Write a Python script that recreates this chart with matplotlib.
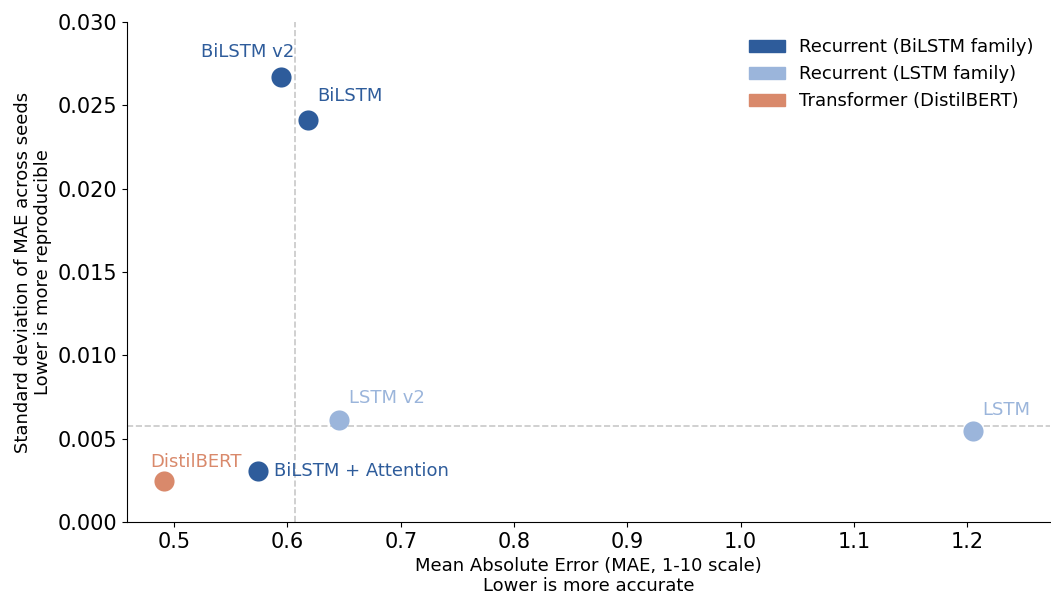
import numpy as np
import matplotlib
matplotlib.use("Agg")
from matplotlib import pyplot as plt
from matplotlib.patches import Patch

models = ["BiLSTM v2", "BiLSTM", "LSTM v2", "LSTM", "BiLSTM + Attention", "DistilBERT"]
families = ["bilstm", "bilstm", "lstm", "lstm", "bilstm", "transformer"]
mae = [0.5944, 0.6183, 0.6456, 1.2053, 0.5741, 0.4912]
mae_std = [0.0267, 0.0241, 0.00612, 0.00546, 0.00306, 0.00246]

colors = {"bilstm": "#2e5c9b", "lstm": "#9bb5db", "transformer": "#d9896b"}
legend_names = {"bilstm": "Recurrent (BiLSTM family)",
                "lstm": "Recurrent (LSTM family)",
                "transformer": "Transformer (DistilBERT)"}

# label offsets in pixels and alignment
label_pos = {
    "BiLSTM v2": ((13, 16), "right", "bottom"),
    "BiLSTM": ((9, 15), "left", "bottom"),
    "LSTM v2": ((10, 13), "left", "bottom"),
    "LSTM": ((9, 12), "left", "bottom"),
    "BiLSTM + Attention": ((16, 0), "left", "center"),
    "DistilBERT": ((-14, 10), "left", "bottom"),
}

fig = plt.figure(figsize=(10.51, 5.96), dpi=100)
ax = fig.add_axes([0.121, 0.124, 0.878, 0.839])

ax.axvline(np.median(mae), color="#c8c8c8", linestyle="--", linewidth=1.2, zorder=1)
ax.axhline(np.median(mae_std), color="#c8c8c8", linestyle="--", linewidth=1.2, zorder=1)

for name, fam, x, y in zip(models, families, mae, mae_std):
    ax.scatter(x, y, s=210, color=colors[fam], zorder=3, linewidths=0)
    off, ha, va = label_pos[name]
    ax.annotate(name, (x, y), xytext=off, textcoords="offset pixels",
                ha=ha, va=va, fontsize=13, color=colors[fam])

ax.set_xlim(0.4585, 1.273)
ax.set_ylim(0, 0.030)
ax.set_xticks([0.5, 0.6, 0.7, 0.8, 0.9, 1.0, 1.1, 1.2])
ax.set_yticks([0.0, 0.005, 0.010, 0.015, 0.020, 0.025, 0.030])
ax.set_yticklabels(["0.000", "0.005", "0.010", "0.015", "0.020", "0.025", "0.030"])
ax.tick_params(labelsize=15)
ax.spines["top"].set_visible(False)
ax.spines["right"].set_visible(False)

ax.set_xlabel("Mean Absolute Error (MAE, 1-10 scale)\nLower is more accurate", fontsize=13,
              linespacing=1.15, labelpad=4)
ax.set_ylabel("Standard deviation of MAE across seeds\nLower is more reproducible", fontsize=13,
              linespacing=1.15)

handles = [Patch(color=colors[k], label=legend_names[k]) for k in ["bilstm", "lstm", "transformer"]]
ax.legend(handles=handles, loc="upper right", frameon=False, fontsize=13,
          bbox_to_anchor=(1.0, 1.0))

fig.savefig("out.png", dpi=100)
